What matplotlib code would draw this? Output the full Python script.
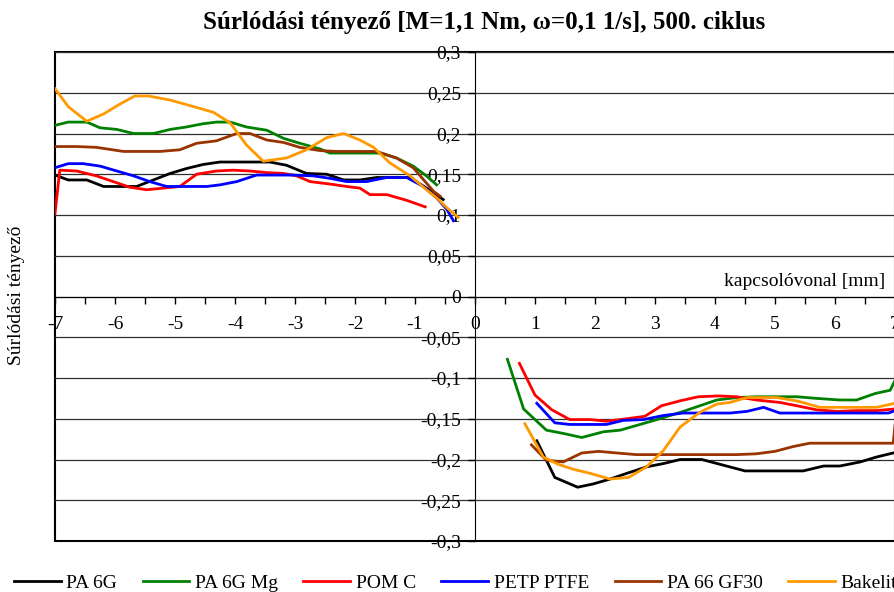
import numpy as np
import matplotlib
matplotlib.use("Agg")
import matplotlib.pyplot as plt
from matplotlib.ticker import FuncFormatter, MultipleLocator

plt.rcParams['font.family'] = ['Liberation Serif', 'DejaVu Serif']

# series names and colours
names = ["PA 6G", "PA 6G Mg", "POM C", "PETP PTFE", "PA 66 GF30", "Bakelit"]
colors = ["#000000", "#008000", "#ff0000", "#0000ff", "#993300", "#ff9900"]

###################################
# left side (negative x)
###################################
x_pa6g_l = [-7.0, -6.78, -6.47, -6.19, -5.92, -5.64, -5.36, -5.08, -4.81, -4.53, -4.25, -3.97,
            -3.69, -3.42, -3.14, -2.81, -2.47, -2.19, -1.92, -1.64, -1.36, -1.08, -0.81, -0.53]
y_pa6g_l = [0.149, 0.143, 0.143, 0.135, 0.135, 0.135, 0.143, 0.151, 0.157, 0.162, 0.165, 0.165,
            0.165, 0.165, 0.161, 0.151, 0.150, 0.143, 0.143, 0.146, 0.146, 0.146, 0.133, 0.119]

x_mg_l = [-7.0, -6.78, -6.47, -6.25, -5.97, -5.69, -5.36, -5.08, -4.81, -4.53, -4.31, -4.08,
          -3.81, -3.47, -3.19, -2.92, -2.58, -2.42, -2.14, -1.86, -1.58, -1.31, -1.03, -0.81, -0.64]
y_mg_l = [0.210, 0.214, 0.214, 0.207, 0.205, 0.200, 0.200, 0.205, 0.208, 0.212, 0.214, 0.214,
          0.208, 0.204, 0.194, 0.188, 0.181, 0.176, 0.176, 0.176, 0.176, 0.170, 0.160, 0.148, 0.137]

x_pom_l = [-7.0, -6.92, -6.64, -6.31, -6.03, -5.75, -5.47, -5.19, -4.92, -4.64, -4.31, -4.03,
           -3.75, -3.47, -3.19, -2.97, -2.75, -2.42, -2.14, -1.92, -1.75, -1.47, -1.14, -0.83]
y_pom_l = [0.102, 0.155, 0.154, 0.148, 0.141, 0.134, 0.131, 0.133, 0.135, 0.150, 0.154, 0.155,
           0.154, 0.152, 0.151, 0.148, 0.141, 0.138, 0.135, 0.133, 0.125, 0.125, 0.118, 0.110]

x_petp_l = [-7.0, -6.78, -6.53, -6.25, -5.97, -5.69, -5.42, -5.14, -4.81, -4.47, -4.25, -3.97,
            -3.64, -3.36, -3.03, -2.69, -2.42, -2.14, -1.81, -1.47, -1.14, -0.86, -0.64, -0.47, -0.36]
y_petp_l = [0.158, 0.163, 0.163, 0.160, 0.154, 0.148, 0.141, 0.135, 0.135, 0.135, 0.137, 0.141,
            0.149, 0.149, 0.149, 0.148, 0.145, 0.141, 0.141, 0.146, 0.146, 0.135, 0.121, 0.107, 0.093]

x_gf_l = [-7.0, -6.64, -6.31, -5.86, -5.58, -5.25, -4.92, -4.64, -4.31, -3.97, -3.75, -3.47,
          -3.19, -2.92, -2.58, -2.31, -1.97, -1.64, -1.31, -1.03, -0.69, -0.58]
y_gf_l = [0.184, 0.184, 0.183, 0.178, 0.178, 0.178, 0.180, 0.188, 0.191, 0.200, 0.200, 0.192,
          0.189, 0.183, 0.179, 0.178, 0.178, 0.178, 0.170, 0.158, 0.129, 0.123]

x_bak_l = [-7.0, -6.78, -6.47, -6.19, -5.92, -5.67, -5.44, -5.08, -4.69, -4.36, -4.08, -3.81,
           -3.53, -3.14, -2.81, -2.47, -2.19, -1.92, -1.69, -1.42, -1.08, -0.81, -0.64, -0.44, -0.28]
y_bak_l = [0.255, 0.233, 0.215, 0.224, 0.236, 0.246, 0.246, 0.241, 0.233, 0.226, 0.213, 0.186,
           0.166, 0.170, 0.180, 0.195, 0.200, 0.192, 0.183, 0.164, 0.148, 0.131, 0.121, 0.107, 0.097]

###################################
# right side (positive x)
###################################
x_pa6g_r = [1.03, 1.33, 1.71, 1.97, 2.25, 2.53, 2.86, 3.14, 3.42, 3.78, 4.14, 4.5, 4.92,
            5.47, 5.81, 6.08, 6.42, 6.69, 6.97]
y_pa6g_r = [-0.177, -0.222, -0.234, -0.230, -0.224, -0.217, -0.209, -0.205, -0.200, -0.200,
            -0.207, -0.214, -0.214, -0.214, -0.208, -0.208, -0.203, -0.197, -0.192]

x_mg_r = [0.54, 0.81, 1.19, 1.47, 1.78, 2.14, 2.42, 2.75, 3.08, 3.47, 3.75, 4.03, 4.36, 4.69,
          5.03, 5.36, 5.69, 6.08, 6.36, 6.67, 6.92, 7.0]
y_mg_r = [-0.077, -0.138, -0.164, -0.168, -0.173, -0.166, -0.164, -0.157, -0.150, -0.141,
          -0.134, -0.127, -0.124, -0.123, -0.123, -0.123, -0.125, -0.127, -0.127, -0.119,
          -0.115, -0.103]

x_pom_r = [0.74, 1.0, 1.28, 1.58, 1.92, 2.19, 2.53, 2.83, 3.11, 3.42, 3.72, 4.06, 4.36, 4.69,
           5.08, 5.36, 5.69, 6.03, 6.36, 6.69, 7.0]
y_pom_r = [-0.082, -0.121, -0.139, -0.151, -0.151, -0.153, -0.150, -0.147, -0.134, -0.128,
           -0.123, -0.122, -0.123, -0.127, -0.130, -0.134, -0.139, -0.141, -0.140, -0.140, -0.138]

x_petp_r = [1.03, 1.33, 1.58, 1.92, 2.19, 2.47, 2.81, 3.14, 3.47, 3.81, 4.25, 4.53, 4.81,
            5.08, 5.47, 6.03, 6.47, 6.89, 7.0]
y_petp_r = [-0.131, -0.155, -0.157, -0.157, -0.157, -0.152, -0.151, -0.146, -0.143, -0.143,
            -0.143, -0.141, -0.136, -0.143, -0.143, -0.143, -0.143, -0.143, -0.140]

x_gf_r = [0.94, 1.19, 1.47, 1.78, 2.06, 2.36, 2.69, 3.03, 3.36, 3.69, 4.03, 4.36, 4.69, 5.0,
          5.31, 5.58, 5.92, 6.31, 6.69, 6.97, 7.0]
y_gf_r = [-0.182, -0.201, -0.203, -0.192, -0.190, -0.192, -0.194, -0.194, -0.194, -0.194,
          -0.194, -0.194, -0.193, -0.190, -0.184, -0.180, -0.180, -0.180, -0.180, -0.180, -0.158]

x_bak_r = [0.83, 1.14, 1.39, 1.64, 1.92, 2.25, 2.56, 2.86, 3.14, 3.42, 3.75, 4.03, 4.25, 4.53,
           4.81, 5.03, 5.36, 5.75, 6.03, 6.36, 6.69, 7.0]
y_bak_r = [-0.156, -0.197, -0.206, -0.212, -0.217, -0.224, -0.222, -0.209, -0.189, -0.160,
           -0.142, -0.132, -0.130, -0.124, -0.124, -0.124, -0.128, -0.136, -0.136, -0.136,
           -0.136, -0.131]

left_data = [(x_pa6g_l, y_pa6g_l), (x_mg_l, y_mg_l), (x_pom_l, y_pom_l),
             (x_petp_l, y_petp_l), (x_gf_l, y_gf_l), (x_bak_l, y_bak_l)]
right_data = [(x_pa6g_r, y_pa6g_r), (x_mg_r, y_mg_r), (x_pom_r, y_pom_r),
              (x_petp_r, y_petp_r), (x_gf_r, y_gf_r), (x_bak_r, y_bak_r)]

fig = plt.figure(figsize=(8.95, 5.92), dpi=100)
ax = fig.add_axes([55 / 895, 1 - 541 / 592, 1 - 55 / 895, (541 - 52) / 592])

# horizontal grid lines
for g in np.arange(-0.3, 0.301, 0.05):
    ax.axhline(g, color="#303030", lw=0.9, zorder=1)

for i in range(6):
    ax.plot(left_data[i][0], left_data[i][1], color=colors[i], lw=2.0, label=names[i], zorder=3)
    ax.plot(right_data[i][0], right_data[i][1], color=colors[i], lw=2.0, zorder=3)

ax.set_xlim(-7, 7)
ax.set_ylim(-0.3, 0.3)

# axes through the origin
ax.spines['left'].set_position(('data', 0))
ax.spines['bottom'].set_position(('data', 0))
ax.spines['top'].set_visible(False)
ax.spines['right'].set_visible(False)
ax.patch.set_edgecolor('black')
ax.patch.set_linewidth(1.5)

ax.xaxis.set_major_locator(MultipleLocator(1))
ax.xaxis.set_minor_locator(MultipleLocator(0.5))
ax.yaxis.set_major_locator(MultipleLocator(0.05))
ax.xaxis.set_major_formatter(FuncFormatter(lambda v, p: "%d" % round(v)))
ax.yaxis.set_major_formatter(FuncFormatter(
    lambda v, p: ("%.2f" % v).rstrip('0').rstrip('.').replace('.', ',') if abs(v) > 1e-9 else "0"))
ax.tick_params(axis='x', which='both', direction='out', length=5, width=1, pad=9, labelsize=14)
ax.tick_params(axis='y', direction='out', length=5, width=1, pad=5, labelsize=14)

ax.text(6.83, 0.018, "kapcsolóvonal [mm]", ha='right', va='center', fontsize=14)
fig.text(17 / 895, 1 - 295 / 592, "Súrlódási tényező", rotation=90, ha='center', va='center',
         fontsize=14)
fig.text(484 / 895, 1 - 22 / 592, "Súrlódási tényező [M=1,1 Nm, ω=0,1 1/s], 500. ciklus",
         ha='center', va='center', fontsize=18, fontweight='bold')

fig.legend(loc='center left', bbox_to_anchor=(14 / 895, 1 - 583 / 592), ncol=6, frameon=False,
           fontsize=14, handlelength=2.4, handletextpad=0.3, columnspacing=1.3,
           borderpad=0, borderaxespad=0)

fig.savefig("out.png", dpi=100)
